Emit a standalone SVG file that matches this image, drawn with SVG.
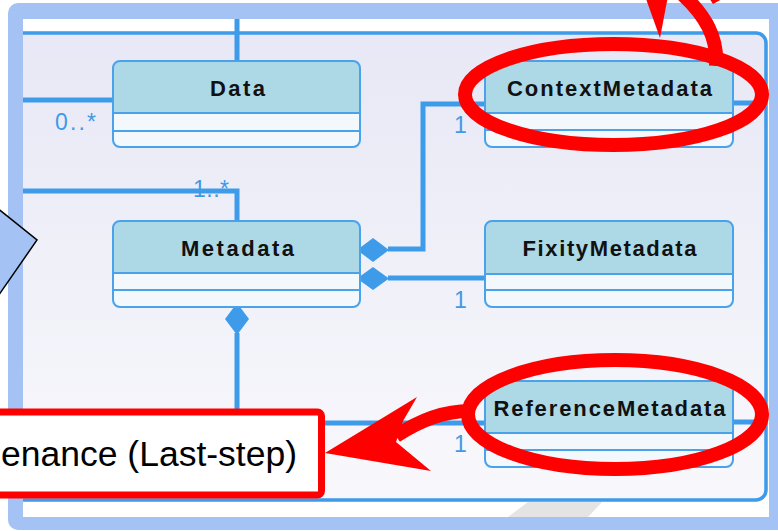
<svg xmlns="http://www.w3.org/2000/svg" width="778" height="531" viewBox="0 0 778 531">
  <defs>
    <linearGradient id="canvasFill" x1="0" y1="0" x2="0" y2="1">
      <stop offset="0" stop-color="#e8e8f6"/>
      <stop offset="1" stop-color="#f8f8fc"/>
    </linearGradient>
    <style>
      .cls-head{fill:#add8e6}
      .cls-body{fill:#f3f8fd}
      .cls-line{stroke:#4aa3ea;stroke-width:2}
      .cls-frame{fill:none;stroke:#4aa3ea;stroke-width:2}
      .cls-name{font-family:"Liberation Sans",Arial,sans-serif;font-weight:bold;font-size:22px;fill:#111;text-anchor:middle}
      .mult{font-family:"Liberation Sans",Arial,sans-serif;font-size:23px;fill:#3f9ae6}
      .link{fill:none;stroke:#3d9be9;stroke-width:5}
      .diamond{fill:#3d9be9}
      .mark{fill:none;stroke:#ff0000;stroke-width:14}
      .mark-fill{fill:#ff0000}
    </style>
  </defs>

  <!-- slide frame -->
  <rect x="8" y="3" width="790" height="527" rx="10" fill="#a4c2f4"/>
  <rect x="23" y="19" width="746" height="498" fill="#ffffff"/>
  <polygon points="528,502 602,502 588,517 508,517" fill="#e4e4e4"/>
  <path d="M23,33 H756 A10,10 0 0 1 766,43 V490 A10,10 0 0 1 756,500 H23 Z" fill="url(#canvasFill)" stroke="none"/>
  <path d="M23,33 H756 A10,10 0 0 1 766,43 V490 A10,10 0 0 1 756,500 H23" fill="none" stroke="#3d9be9" stroke-width="3.5"/>

  <!-- multiplicity labels -->
  <g id="labels">
    <text x="55" y="129.5" class="mult" textLength="41" lengthAdjust="spacing">0..*</text>
    <text x="193" y="197" class="mult" textLength="36" lengthAdjust="spacing">1..*</text>
    <text x="460.5" y="132.5" class="mult" text-anchor="middle">1</text>
    <text x="460.5" y="307.5" class="mult" text-anchor="middle">1</text>
    <text x="460.5" y="451.5" class="mult" text-anchor="middle">1</text>
  </g>

  <!-- associations -->
  <g id="connectors">
    <path class="link" d="M237,19 V61"/>
    <path class="link" d="M23,100 H113"/>
    <path class="link" d="M23,191 H237 V221"/>
    <path class="link" d="M388,249 H423 V104 H485"/>
    <path class="link" d="M388,278 H485"/>
    <path class="link" d="M237,333 V423 H485"/>
    <path class="link" d="M733,103 H766"/>
    <path class="link" d="M733,422 H766"/>
    <polygon class="diamond" points="357,250 373,238 389,250 373,262"/>
    <polygon class="diamond" points="357,278.5 373,267 389,278.5 373,290"/>
    <polygon class="diamond" points="237,303 249,319 237,335 225,319"/>
  </g>

  <g id="data">
    <rect x="113" y="61" width="247" height="86" rx="7" class="cls-head"/>
    <path d="M114,113 H359 V140 A6,6 0 0 1 353,146 H120 A6,6 0 0 1 114,140 Z" class="cls-body"/>
    <line x1="113" y1="113" x2="360" y2="113" class="cls-line"/>
    <line x1="113" y1="131" x2="360" y2="131" class="cls-line"/>
    <rect x="113" y="61" width="247" height="86" rx="7" class="cls-frame"/>
    <text x="237.5" y="96" class="cls-name" textLength="55" lengthAdjust="spacing">Data</text>
  </g>

  <g id="metadata">
    <rect x="113" y="221" width="247" height="86" rx="7" class="cls-head"/>
    <path d="M114,273 H359 V300 A6,6 0 0 1 353,306 H120 A6,6 0 0 1 114,300 Z" class="cls-body"/>
    <line x1="113" y1="273" x2="360" y2="273" class="cls-line"/>
    <line x1="113" y1="290" x2="360" y2="290" class="cls-line"/>
    <rect x="113" y="221" width="247" height="86" rx="7" class="cls-frame"/>
    <text x="237.5" y="255.5" class="cls-name" textLength="113" lengthAdjust="spacing">Metadata</text>
  </g>

  <g id="context-metadata">
    <rect x="485" y="61" width="248" height="86" rx="7" class="cls-head"/>
    <path d="M486,113 H732 V140 A6,6 0 0 1 726,146 H492 A6,6 0 0 1 486,140 Z" class="cls-body"/>
    <line x1="485" y1="113" x2="733" y2="113" class="cls-line"/>
    <line x1="485" y1="130" x2="733" y2="130" class="cls-line"/>
    <rect x="485" y="61" width="248" height="86" rx="7" class="cls-frame"/>
    <text x="609.5" y="96" class="cls-name" textLength="205" lengthAdjust="spacing">ContextMetadata</text>
  </g>

  <g id="fixity-metadata">
    <rect x="485" y="221" width="248" height="86" rx="7" class="cls-head"/>
    <path d="M486,274 H732 V300 A6,6 0 0 1 726,306 H492 A6,6 0 0 1 486,300 Z" class="cls-body"/>
    <line x1="485" y1="274" x2="733" y2="274" class="cls-line"/>
    <line x1="485" y1="290" x2="733" y2="290" class="cls-line"/>
    <rect x="485" y="221" width="248" height="86" rx="7" class="cls-frame"/>
    <text x="609.5" y="255.5" class="cls-name" textLength="174" lengthAdjust="spacing">FixityMetadata</text>
  </g>

  <g id="reference-metadata">
    <rect x="485" y="381" width="248" height="86" rx="7" class="cls-head"/>
    <path d="M486,433 H732 V460 A6,6 0 0 1 726,466 H492 A6,6 0 0 1 486,460 Z" class="cls-body"/>
    <line x1="485" y1="433" x2="733" y2="433" class="cls-line"/>
    <line x1="485" y1="450" x2="733" y2="450" class="cls-line"/>
    <rect x="485" y="381" width="248" height="86" rx="7" class="cls-frame"/>
    <text x="609.5" y="415.5" class="cls-name" textLength="232" lengthAdjust="spacing">ReferenceMetadata</text>
  </g>

  <!-- red highlights -->
  <g id="highlights">
    <ellipse class="mark" cx="613.5" cy="94.5" rx="148.5" ry="50.5"/>
    <path class="mark" d="M716,66 C718,38 706,16 682,-6" stroke-width="15"/>
    <polygon class="mark-fill" points="645,-4 668,-4 660,38"/>
    <polygon class="mark-fill" points="709,-2 724,-2 713,4"/>

    <ellipse class="mark" cx="615" cy="414.5" rx="147" ry="54.5"/>
    <path class="mark" d="M470,411 C445,411 420,420 396,436" stroke-width="17"/>
    <polygon class="mark-fill" points="325,453 417,397 403,421 396,442 431,471"/>
  </g>

  <g id="provenance-callout">
    <rect x="-20" y="412" width="341.5" height="83" rx="4" fill="#ffffff" stroke="#ff0000" stroke-width="7"/>
    <text x="297" y="466" text-anchor="end" font-family="Liberation Sans, Arial, sans-serif" font-size="35.5" fill="#000">enance (Last-step)</text>
  </g>

  <polygon id="side-pointer" points="-4,207 37,240 -4,299" fill="#a4c2f4" stroke="#000" stroke-width="1.5"/>
</svg>
